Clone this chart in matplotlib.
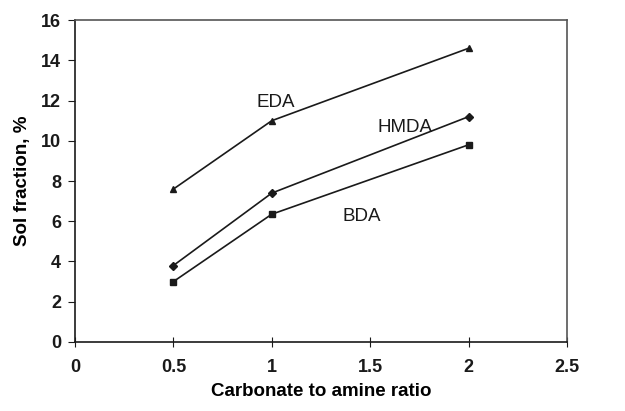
import numpy as np
import matplotlib
matplotlib.use('Agg')
from matplotlib import pyplot as plt

plt.rcParams['font.family'] = ['Liberation Sans', 'DejaVu Sans']

# carbonate to amine ratio and sol fraction (%) for each amine
ratio = [0.5, 1, 2]
eda = [7.6, 11.0, 14.6]
hmda = [3.8, 7.4, 11.2]
bda = [3.0, 6.35, 9.8]

series = [('EDA', eda, '^', 5), ('HMDA', hmda, 'D', 4), ('BDA', bda, 's', 4.5)]
label_pos = {'EDA': (0.925, 11.9), 'HMDA': (1.54, 10.65), 'BDA': (1.36, 6.25)}

fig = plt.figure(figsize=(6.25, 4.11), dpi=100)
ax = fig.add_axes([0.12, 0.168, 0.787, 0.783])

for name, vals, mk, ms in series:
    ax.plot(ratio, vals, color='#1a1a1a', lw=1.2, marker=mk, ms=ms,
            mfc='#1a1a1a', mec='#1a1a1a')
    ax.text(*label_pos[name], name, fontsize=13.5, color='#1a1a1a',
            ha='left', va='center')

ax.set_xlim(0, 2.5)
ax.set_ylim(0, 16)
ax.set_xticks(np.arange(0, 2.51, 0.5))
ax.set_xticklabels(['0', '0.5', '1', '1.5', '2', '2.5'])
ax.set_yticks(np.arange(0, 17, 2))
ax.tick_params(axis='x', direction='inout', length=7, pad=9, labelsize=13, colors='#1a1a1a')
ax.tick_params(axis='y', direction='out', length=5, pad=5, labelsize=13, colors='#1a1a1a')
for lab in ax.get_xticklabels() + ax.get_yticklabels():
    lab.set_fontweight('bold')

for s in ['top', 'right']:
    ax.spines[s].set_color('#555555')
for s in ['left', 'bottom']:
    ax.spines[s].set_color('#1a1a1a')
for s in ax.spines.values():
    s.set_linewidth(1.2)

ax.set_xlabel('Carbonate to amine ratio', fontsize=13.5, fontweight='bold', labelpad=5)
ax.set_ylabel('Sol fraction, %', fontsize=13.5, fontweight='bold', labelpad=7)

fig.savefig('out.png', dpi=100)
